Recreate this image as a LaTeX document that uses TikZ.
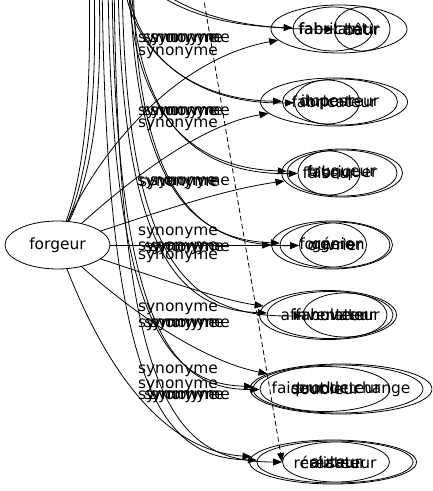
\documentclass[tikz,border=0pt]{standalone}
\usepackage{fontspec}
\setmainfont{DejaVu Sans}
\usetikzlibrary{arrows.meta,shapes.geometric}
\newcommand\zw[1]{\makebox[0pt]{#1}}
\begin{document}
\begin{tikzpicture}[x=1bp,y=-1bp,
  every node/.style={font=\fontsize{15.5}{18}\selectfont},
  word/.style={ellipse,draw,line width=0.8bp,inner sep=0pt},
  lbl/.style={inner sep=0pt},
  edge/.style={line width=0.8bp,-{Triangle[length=9bp,width=7bp]}},
  dashedge/.style={edge,dash pattern=on 5bp off 3bp}]
\useasboundingbox (0,0) rectangle (432,491);
\fill[white] (0,0) rectangle (432,491);
\clip (0,0) rectangle (432,491);

% source
\node[word,minimum width=105bp,minimum height=48bp] (forgeur) at (57.5,245) {\zw{forgeur}};

% row 1
\node[word,minimum width=136bp,minimum height=48bp] (w1a) at (339,29) {\zw{fabulateur}};
\node[word,minimum width=80bp,minimum height=44bp] (w1b) at (333,29) {\zw{fabricant}};
\node[word,minimum width=56bp,minimum height=44bp] (w1c) at (362,29) {\zw{bâtir}};
% row 2
\node[word,minimum width=147bp,minimum height=48bp] (w2a) at (334,102) {\zw{fabricateur}};
\node[word,minimum width=115bp,minimum height=46bp] (w2b) at (340,102) {\zw{imposteur}};
\node[word,minimum width=65bp,minimum height=44bp] (w2c) at (327,102) {\zw{dupeur}};
% row 3
\node[word,minimum width=121bp,minimum height=48bp] (w3a) at (342,173) {\zw{fabriquer}};
\node[word,minimum width=110bp,minimum height=46bp] (w3b) at (342,173) {\zw{truqueur}};
\node[word,minimum width=62bp,minimum height=44bp] (w3c) at (329,173) {\zw{faiseur}};
% row 4
\node[word,minimum width=121bp,minimum height=48bp] (w4a) at (332,245) {\zw{forgeron}};
\node[word,minimum width=110bp,minimum height=46bp] (w4b) at (335,245) {\zw{ouvrier}};
\node[word,minimum width=67bp,minimum height=44bp] (w4c) at (333,245) {\zw{génie}};
% row 5
\node[word,minimum width=137bp,minimum height=49bp] (w5a) at (328,315) {\zw{affabulateur}};
\node[word,minimum width=126bp,minimum height=47bp] (w5b) at (330,315) {\zw{inventeur}};
\node[word,minimum width=84bp,minimum height=44bp] (w5c) at (345,315) {\zw{novateur}};
% row 6
\node[word,minimum width=182bp,minimum height=50bp] (w6a) at (341,389) {\zw{faiseur de change}};
\node[word,minimum width=170bp,minimum height=48bp] (w6b) at (338,389) {\zw{producteur}};
\node[word,minimum width=130bp,minimum height=45bp] (w6c) at (325,389) {\zw{doubleur}};
% row 7
\node[word,minimum width=167bp,minimum height=44bp] (w7a) at (333,462) {\zw{créateur}};
\node[word,minimum width=156bp,minimum height=42bp] (w7b) at (335,462) {\zw{réalisateur}};
\node[word,minimum width=107bp,minimum height=40bp] (w7c) at (336,462) {\zw{auteur}};

% off-picture ends
\coordinate (u1) at (89,-30);
\coordinate (u2) at (94,-30);
\coordinate (u3) at (99,-30);
\coordinate (t1a) at (118,-45);
\coordinate (t1b) at (124,-45);
\coordinate (t2b) at (123,-30);
\coordinate (t2c) at (126,-30);
\coordinate (t3b) at (128,-30);
\coordinate (t3c) at (131,-30);
\coordinate (t4b) at (130,-30);
\coordinate (t4c) at (133,-30);
\coordinate (t5b) at (118,-30);
\coordinate (t5c) at (122,-30);
\coordinate (t6b) at (108,-30);
\coordinate (t6c) at (112,-30);
\coordinate (t7b) at (102,-30);
\coordinate (t7c) at (114,-30);
\coordinate (td) at (203,-5);

% forgeur to the nodes above
\draw[edge] (forgeur) .. controls (92,150) and (90,40) .. (u1);
\draw[edge] (forgeur) .. controls (98,150) and (95,40) .. (u2);
\draw[edge] (forgeur) .. controls (104,150) and (100,40) .. (u3);

% forgeur to each row
\draw[edge] (forgeur) .. controls (95,160) and (170,60) .. (w1a);
\draw[edge] (forgeur) .. controls (130,180) and (200,125) .. (w2a);
\draw[edge] (forgeur) .. controls (150,215) and (220,190) .. (w3a);
\draw[edge] (forgeur) -- (w4a);
\draw[edge] (forgeur) .. controls (150,275) and (220,300) .. (w5a);
\draw[edge] (forgeur) .. controls (130,310) and (200,360) .. (w6a);
\draw[edge] (forgeur) .. controls (95,340) and (150,450) .. (w7a);

% long edges from above
\draw[edge] (t1a) .. controls (150,0) and (200,25) .. (w1b);
\draw[edge] (t1b) .. controls (158,0) and (210,30) .. (w1c);
\draw[edge] (t2b) .. controls (125,40) and (180,100) .. (w2b);
\draw[edge] (t2c) .. controls (128,50) and (190,105) .. (w2c);
\draw[edge] (t3b) .. controls (130,113) and (190,168) .. (w3b);
\draw[edge] (t3c) .. controls (133,120) and (195,175) .. (w3c);
\draw[edge] (t4b) .. controls (132,185) and (192,240) .. (w4b);
\draw[edge] (t4c) .. controls (135,192) and (195,247) .. (w4c);
\draw[edge] (t5b) .. controls (120,255) and (180,310) .. (w5b);
\draw[edge] (t5c) .. controls (124,262) and (185,318) .. (w5c);
\draw[edge] (t6b) .. controls (110,330) and (170,384) .. (w6b);
\draw[edge] (t6c) .. controls (114,336) and (175,390) .. (w6c);
\draw[edge] (t7b) .. controls (105,400) and (165,458) .. (w7b);
\draw[edge] (t7c) .. controls (117,405) and (175,462) .. (w7c);
\draw[dashedge] (td) -- (w7c.west);

% edge labels
\node[lbl] (s1) at (178,40) {synonyme};
\node[lbl] (s2) at (183,40) {synonyme};
\node[lbl] (s3) at (190,40) {synonyme};
\node[lbl] (s4) at (178,53) {synonyme};
\node[lbl] (s5) at (178,113) {synonyme};
\node[lbl] (s6) at (183,113) {synonyme};
\node[lbl] (s7) at (190,113) {synonyme};
\node[lbl] (s8) at (178,125) {synonyme};
\node[lbl] (s9) at (177,183) {synonyme};
\node[lbl] (s10) at (179,184) {synonyme};
\node[lbl] (s11) at (190,183) {synonyme};
\node[lbl] (s12) at (178,233) {synonyme};
\node[lbl] (s13) at (178,248) {synonyme};
\node[lbl] (s14) at (184,249) {synonyme};
\node[lbl] (s15) at (190,249) {synonyme};
\node[lbl] (s16) at (178,257) {synonyme};
\node[lbl] (s17) at (178,309) {synonyme};
\node[lbl] (s18) at (178,325) {synonyme};
\node[lbl] (s19) at (184,325) {synonyme};
\node[lbl] (s20) at (190,325) {synonyme};
\node[lbl] (s21) at (178,371) {synonyme};
\node[lbl] (s22) at (178,386) {synonyme};
\node[lbl] (s23) at (178,397) {synonyme};
\node[lbl] (s24) at (184,397) {synonyme};
\node[lbl] (s25) at (190,397) {synonyme};
\end{tikzpicture}
\end{document}
